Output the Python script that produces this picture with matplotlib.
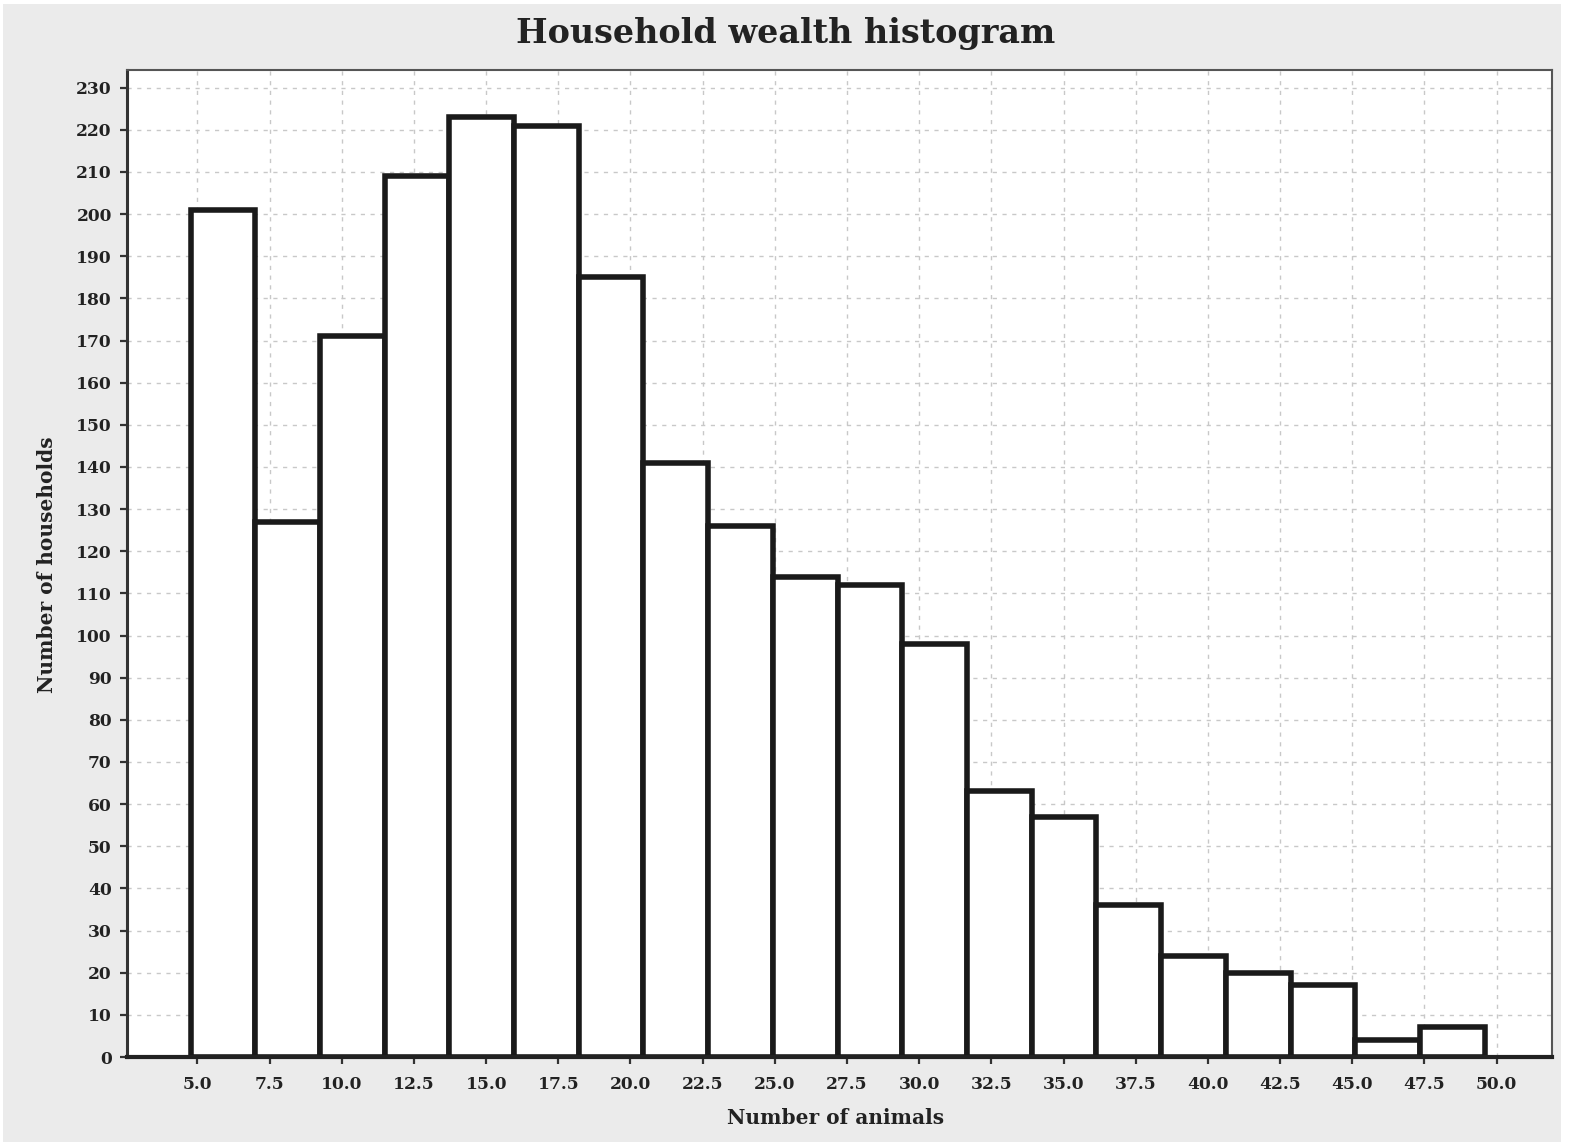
import matplotlib
matplotlib.use("Agg")
import matplotlib.pyplot as plt
from matplotlib.patches import Rectangle
import numpy as np

# Data
bin_start = 4.76
bin_width = 2.2415
counts = [201, 127, 171, 209, 223, 221, 185, 141, 126, 114,
          112, 98, 63, 57, 36, 24, 20, 17, 4, 7]
x_ticks = [5.0, 7.5, 10.0, 12.5, 15.0, 17.5, 20.0, 22.5, 25.0, 27.5,
           30.0, 32.5, 35.0, 37.5, 40.0, 42.5, 45.0, 47.5, 50.0]
y_ticks = list(range(0, 231, 10))

title = "Household wealth histogram"
xlabel = "Number of animals"
ylabel = "Number of households"

W, H = 1572, 1148
fig = plt.figure(figsize=(W / 100, H / 100), dpi=100)
fig.patch.set_facecolor("white")
bg = Rectangle((3 / W, 6 / H), (1561 - 3) / W, (1144 - 6) / H,
               transform=fig.transFigure, facecolor="#ebebeb",
               edgecolor="none", zorder=-10)
fig.patches.append(bg)

ax = fig.add_axes([127 / W, 1 - 1057 / H, (1552 - 127) / W, (1057 - 70) / H])
ax.set_zorder(1)
ax.set_facecolor("white")

edges = bin_start + bin_width * np.arange(len(counts) + 1)
ax.bar(edges[:-1], counts, width=bin_width, align="edge", facecolor="white",
       edgecolor="#1a1a1a", linewidth=4.0, zorder=3)

ax.set_xlim(2.56, 51.92)
ax.set_ylim(0, 234.2)
ax.set_xticks(x_ticks)
ax.set_xticklabels([f"{v:.1f}" for v in x_ticks])
ax.set_yticks(y_ticks)

FAM = "DejaVu Serif"
for lbl in ax.get_xticklabels() + ax.get_yticklabels():
    lbl.set_fontfamily(FAM)
    lbl.set_fontweight("bold")
    lbl.set_fontsize(12.3)
    lbl.set_color("#222222")

ax.tick_params(axis="both", direction="out", length=5, width=1.6, color="#333333")
ax.tick_params(axis="x", pad=9)
ax.tick_params(axis="y", pad=6)

ax.grid(True, color="#c8c8c8", linestyle=(0, (3, 4)), linewidth=1.0, zorder=1)
ax.set_axisbelow(True)

ax.spines["left"].set_linewidth(2.2)
ax.spines["left"].set_color("#333333")
ax.spines["bottom"].set_linewidth(3.0)
ax.spines["bottom"].set_color("#222222")
ax.spines["bottom"].set_zorder(4)
for s in ["top", "right"]:
    ax.spines[s].set_linewidth(1.5)
    ax.spines[s].set_color("#555555")

font = dict(family=FAM, weight="bold", color="#222222")
fig.text(786 / W, 1 - 34 / H, title, ha="center", va="center", fontsize=24, **font)
fig.text(836 / W, 1 - 1118 / H, xlabel, ha="center", va="center", fontsize=14.5, **font)
fig.text(47 / W, 1 - 565 / H, ylabel, ha="center", va="center", rotation=90,
         fontsize=14.5, **font)

fig.savefig("out.png", dpi=100, facecolor=fig.get_facecolor())
